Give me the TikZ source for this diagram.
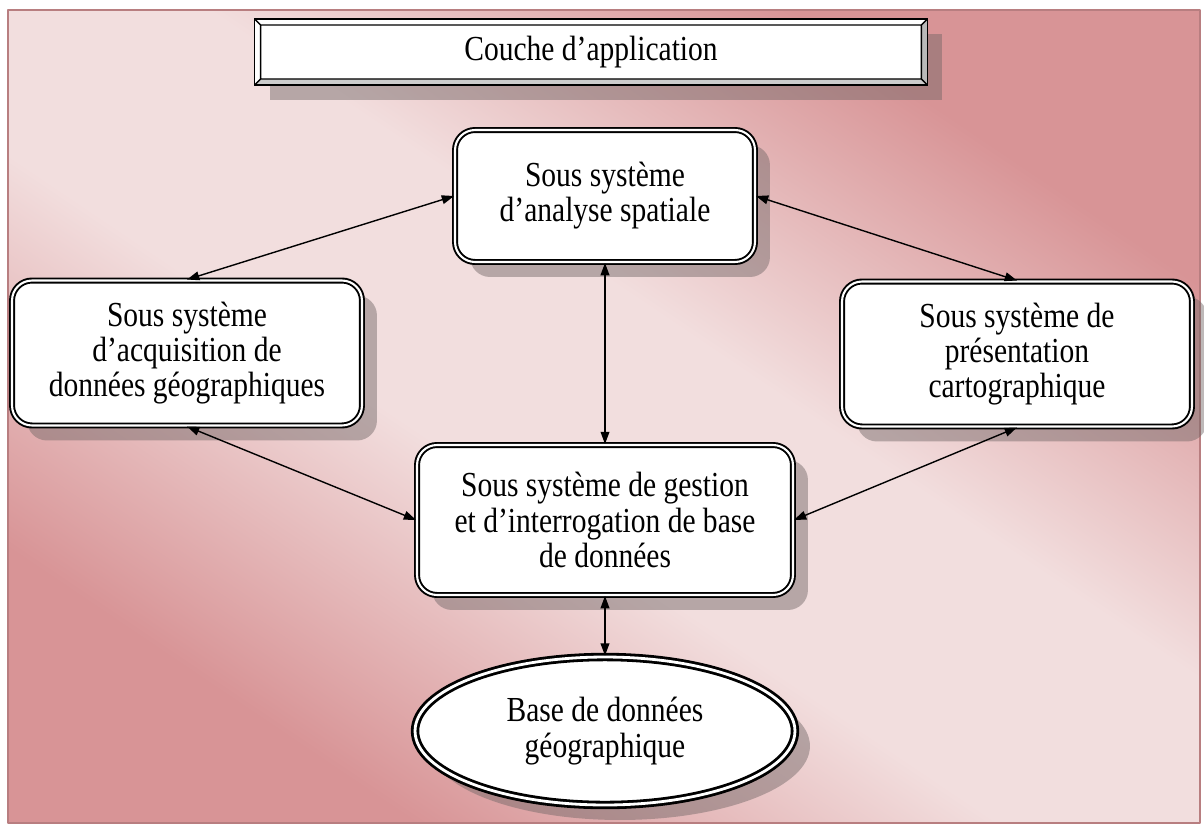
\documentclass[tikz,border=0pt]{standalone}
\usepackage{fontspec}
\setmainfont{Liberation Serif}[FakeStretch=0.84]
\usepackage{tikz}
\usetikzlibrary{shapes.geometric,shadows,arrows.meta,calc,positioning}

\definecolor{bgdark}{RGB}{216,148,150}
\definecolor{bglight}{RGB}{242,222,222}
\definecolor{shadowgrey}{RGB}{110,100,100}

\pgfdeclareverticalshading{bgfade}{100bp}{color(0bp)=(bgdark); color(27bp)=(bgdark); color(44bp)=(bglight); color(56bp)=(bglight); color(73bp)=(bgdark); color(100bp)=(bgdark)}

\begin{document}
\begin{tikzpicture}[x=0.02cm,y=-0.02cm,
	line width=0.8pt,line cap=round,line join=round,
	>={Triangle[length=7pt,width=5pt]},
	every node/.style={font=\fontsize{20}{20}\selectfont,align=center},
	boxshadow/.style={drop shadow={shadow xshift=0.3cm,shadow yshift=-0.3cm,fill=shadowgrey,opacity=0.45}},
	subsys/.style={draw,fill=white,rounded corners=0.4cm,line width=1.1pt,
		double=white,double distance=1.2pt,boxshadow},
	layer/.style={draw,fill=white,line width=1pt,outer sep=0pt,
		minimum width=13.46cm,minimum height=1.32cm,boxshadow},
	database/.style={ellipse,draw,fill=white,line width=1.6pt,
		double=white,double distance=1.6pt,boxshadow,
		minimum width=7.6cm,minimum height=2.96cm}]
	
	\useasboundingbox (0,0) rectangle (1204,825);
	\shade[shading=bgfade,shading angle=-34,draw=bgdark!85!black,line width=0.6pt]
		(8,10) rectangle (1200,823);
	
	% title layer with bevel
	\node[layer] (title) at (591,52) {Couche d’application};
	\coordinate (tnw) at ($(title.north west)+(6,6)$);
	\coordinate (tne) at ($(title.north east)+(-6,6)$);
	\coordinate (tsw) at ($(title.south west)+(6,-6)$);
	\coordinate (tse) at ($(title.south east)+(-6,-6)$);
	\fill[gray!40] (title.south west) -- (title.south east) -- (tse) -- (tsw) -- cycle;
	\fill[gray!55] (title.north east) -- (title.south east) -- (tse) -- (tne) -- cycle;
	\draw[line width=1pt] (title.north west) rectangle (title.south east);
	\draw (tnw) rectangle (tse)
		(title.north west) -- (tnw) (title.north east) -- (tne)
		(title.south west) -- (tsw) (title.south east) -- (tse);
	
	% sub systems
	\node[subsys,minimum width=6cm,minimum height=2.64cm] (ana) at (605,196)
		{Sous système\\d’analyse spatiale};
	\node[subsys,minimum width=7cm,minimum height=2.9cm] (acq) at (187,353)
		{Sous système\\d’acquisition de\\données géographiques};
	\node[subsys,minimum width=7cm,minimum height=2.9cm] (pres) at (1017,354)
		{Sous système de\\présentation\\cartographique};
	\node[subsys,minimum width=7.52cm,minimum height=3cm] (gest) at (605,520)
		{Sous système de gestion\\et d’interrogation de base\\de données};
	\node[database] (base) at (605,731) {Base de données\\géographique};
	
	% links of the analysis node
	\draw[<->] (ana.west) -- (acq.north);
	\draw[<->] (ana.east) -- (pres.north);
	\draw[<->] (ana.south) -- (gest.north);
	
	% links of the management node
	\draw[<->] (acq.south) -- (gest.west);
	\draw[<->] (pres.south) -- (gest.east);
	\draw[<->] (gest.south) -- (base.north);
\end{tikzpicture}
\end{document}
